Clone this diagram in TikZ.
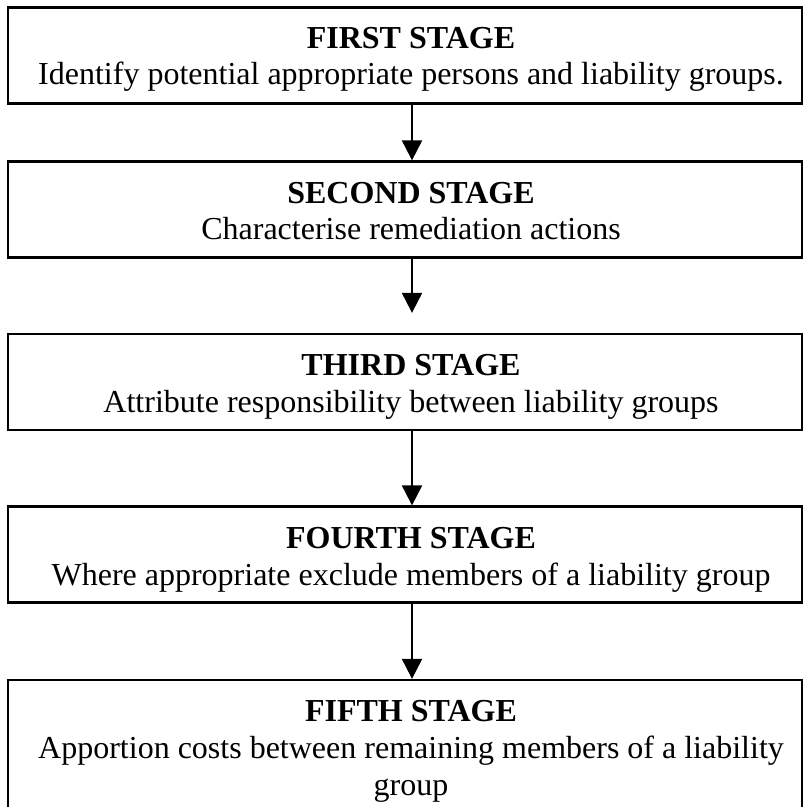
\documentclass[tikz,border=0pt]{standalone}
\usepackage{fontspec}
\setmainfont{Liberation Serif}
\usetikzlibrary{arrows.meta, positioning}

\tikzset{
  stage/.style={draw, line width=0.85pt, minimum width=297.75pt, minimum height=36pt, inner sep=0pt},
  stagetext/.style={align=center, anchor=base, inner sep=0pt, font=\fontsize{12}{13.8}\selectfont},
  flow/.style={line width=0.75pt, -{Triangle[width=7.5pt, length=7.5pt]}}
}

\begin{document}
\begin{tikzpicture}[x=0.375pt, y=-0.375pt]
    \clip (0,0) rectangle (803,807);

    % Draw the stage boxes
    \node[stage] (first) at (405,55.5) {};
    \node[stage] (second) at (405,209.5) {};
    \node[stage] (third) at (405,382) {};
    \node[stage] (fourth) at (405,554.5) {};
    \node[stage, minimum height=52.5pt] (fifth) at (405,750) {};

    % Place the stage texts inside the boxes (anchored at the last line)
    \node[stagetext] (firsttext) at (411,85) {\textbf{FIRST STAGE}\\Identify potential appropriate persons and liability groups.};
    \node[stagetext] (secondtext) at (411,240) {\textbf{SECOND STAGE}\\Characterise remediation actions};
    \node[stagetext] (thirdtext) at (411,412) {\textbf{THIRD STAGE}\\Attribute responsibility between liability groups};
    \node[stagetext] (fourthtext) at (411,585) {\textbf{FOURTH STAGE}\\Where appropriate exclude members of a liability group};
    \node[stagetext] (fifthtext) at (411,795) {\textbf{FIFTH STAGE}\\Apportion costs between remaining members of a liability\\group};

    % Arrows from one stage to the next
    \draw[flow] ([xshift=2.625pt]first.south) -- ([xshift=2.625pt]second.north);
    \draw[flow, shorten >=7.5pt] ([xshift=2.625pt]second.south) -- ([xshift=2.625pt]third.north);
    \draw[flow] ([xshift=2.625pt]third.south) -- ([xshift=2.625pt]fourth.north);
    \draw[flow] ([xshift=2.625pt]fourth.south) -- ([xshift=2.625pt]fifth.north);

\end{tikzpicture}
\end{document}
